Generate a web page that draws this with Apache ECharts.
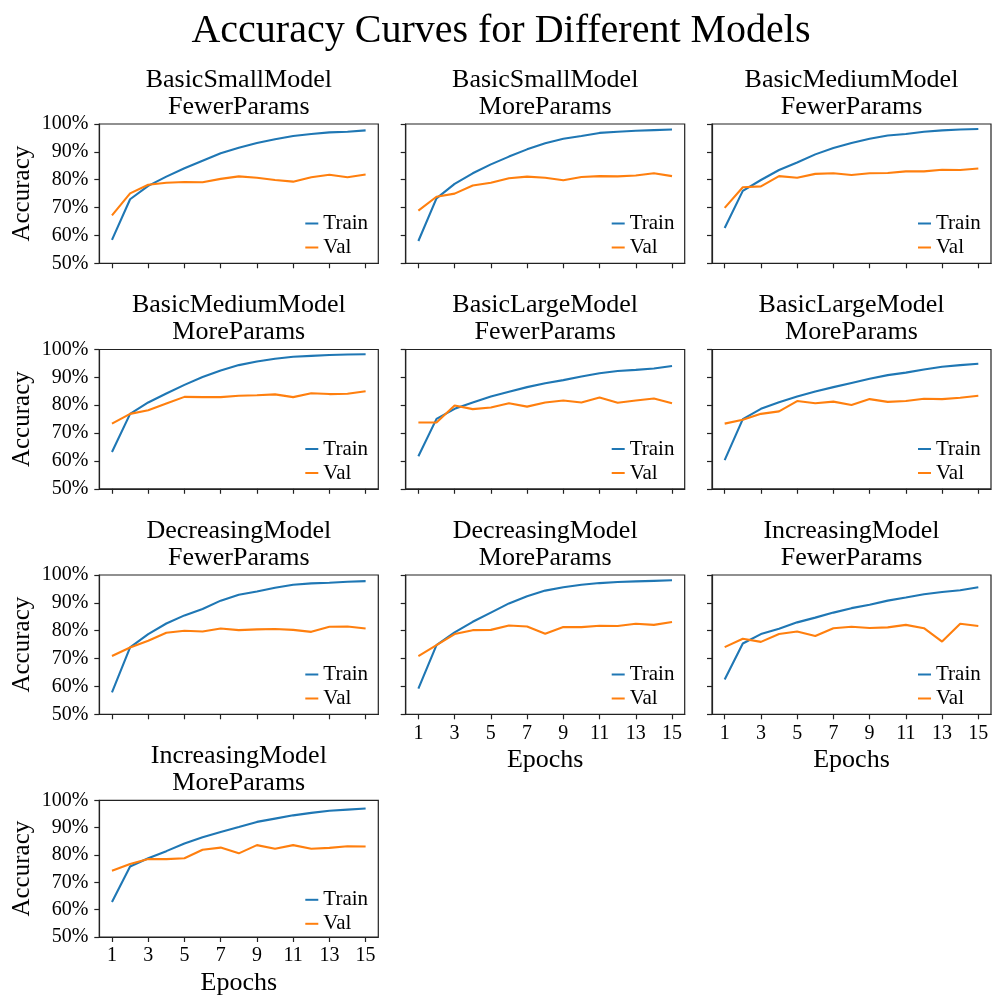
<!DOCTYPE html>
<html>
<head>
<meta charset="utf-8">
<script src="https://cdn.jsdelivr.net/npm/echarts@6/dist/echarts.min.js"></script>
<style>
  html, body { margin: 0; padding: 0; background: #fff; }
  #chart { width: 992px; height: 997px; }
</style>
</head>
<body>
<div id="chart"></div>
<script>
// Accuracy per epoch for ten model variants (train / validation), in percent
const epochs = [1, 2, 3, 4, 5, 6, 7, 8, 9, 10, 11, 12, 13, 14, 15];
const epochTicks = [1, 3, 5, 7, 9, 11, 13, 15];
const accuracyTicks = [50, 60, 70, 80, 90, 100];

const modelNames = [
  'BasicSmallModel\nFewerParams', 'BasicSmallModel\nMoreParams', 'BasicMediumModel\nFewerParams',
  'BasicMediumModel\nMoreParams', 'BasicLargeModel\nFewerParams', 'BasicLargeModel\nMoreParams',
  'DecreasingModel\nFewerParams', 'DecreasingModel\nMoreParams', 'IncreasingModel\nFewerParams',
  'IncreasingModel\nMoreParams'
];

const basicSmallFewerTrain = [58.4, 73.0, 77.8, 81.1, 84.1, 86.8, 89.5, 91.5, 93.2, 94.5, 95.7, 96.4, 97.0, 97.2, 97.7];
const basicSmallFewerVal   = [67.2, 75.1, 78.2, 78.9, 79.2, 79.1, 80.3, 81.2, 80.7, 79.9, 79.3, 80.9, 81.8, 80.9, 81.9];
const basicSmallMoreTrain  = [58.0, 73.3, 78.5, 82.3, 85.5, 88.3, 90.9, 93.1, 94.7, 95.7, 96.8, 97.2, 97.6, 97.8, 98.0];
const basicSmallMoreVal    = [68.9, 73.9, 75.0, 77.9, 78.9, 80.5, 81.1, 80.7, 79.8, 81.0, 81.3, 81.2, 81.5, 82.3, 81.3];
const basicMediumFewerTrain = [62.7, 76.0, 79.9, 83.5, 86.2, 89.1, 91.4, 93.2, 94.7, 95.9, 96.4, 97.2, 97.7, 98.0, 98.2];
const basicMediumFewerVal   = [69.9, 77.3, 77.6, 81.3, 80.7, 82.1, 82.3, 81.7, 82.3, 82.4, 83.0, 83.0, 83.6, 83.5, 84.0];
const basicMediumMoreTrain  = [63.2, 76.9, 81.0, 84.2, 87.3, 90.1, 92.5, 94.4, 95.7, 96.7, 97.4, 97.7, 98.0, 98.2, 98.3];
const basicMediumMoreVal    = [73.4, 76.9, 78.2, 80.6, 83.0, 82.9, 82.9, 83.4, 83.6, 83.9, 82.9, 84.3, 84.0, 84.1, 85.0];
const basicLargeFewerTrain = [61.7, 75.1, 78.7, 81.0, 83.1, 84.8, 86.5, 87.9, 89.0, 90.3, 91.5, 92.3, 92.7, 93.2, 94.1];
const basicLargeFewerVal   = [73.8, 73.8, 79.9, 78.6, 79.2, 80.7, 79.5, 81.0, 81.7, 81.0, 82.8, 80.9, 81.7, 82.4, 80.7];
const basicLargeMoreTrain  = [60.3, 75.0, 78.7, 81.1, 83.1, 84.9, 86.5, 88.0, 89.5, 90.8, 91.7, 92.8, 93.8, 94.4, 94.9];
const basicLargeMoreVal    = [73.4, 74.8, 76.9, 77.8, 81.5, 80.7, 81.3, 80.1, 82.2, 81.2, 81.5, 82.3, 82.2, 82.7, 83.4];
const decreasingFewerTrain = [57.9, 74.0, 78.8, 82.6, 85.5, 87.8, 90.8, 92.9, 94.1, 95.4, 96.5, 97.0, 97.2, 97.6, 97.8];
const decreasingFewerVal   = [70.9, 74.0, 76.4, 79.3, 80.0, 79.7, 80.8, 80.2, 80.5, 80.6, 80.3, 79.6, 81.4, 81.5, 80.8];
const decreasingMoreTrain  = [59.2, 74.8, 79.4, 83.2, 86.5, 89.8, 92.4, 94.4, 95.6, 96.5, 97.1, 97.5, 97.7, 97.9, 98.1];
const decreasingMoreVal    = [70.9, 74.8, 78.8, 80.2, 80.3, 81.9, 81.5, 78.9, 81.3, 81.3, 81.8, 81.7, 82.5, 82.1, 83.1];
const increasingFewerTrain = [62.5, 75.4, 78.8, 80.7, 83.0, 84.7, 86.5, 88.1, 89.3, 90.8, 91.9, 93.1, 93.9, 94.5, 95.6];
const increasingFewerVal   = [74.1, 77.1, 76.0, 78.8, 79.7, 78.1, 80.9, 81.4, 81.0, 81.2, 82.1, 80.9, 76.1, 82.5, 81.7];
const increasingMoreTrain  = [62.8, 75.8, 78.8, 81.4, 84.2, 86.5, 88.4, 90.2, 92.1, 93.3, 94.5, 95.4, 96.2, 96.6, 97.0];
const increasingMoreVal    = [74.2, 76.7, 78.5, 78.5, 78.8, 81.9, 82.7, 80.6, 83.6, 82.3, 83.6, 82.3, 82.6, 83.2, 83.1];

const trainSeries = [basicSmallFewerTrain, basicSmallMoreTrain, basicMediumFewerTrain, basicMediumMoreTrain,
  basicLargeFewerTrain, basicLargeMoreTrain, decreasingFewerTrain, decreasingMoreTrain,
  increasingFewerTrain, increasingMoreTrain];
const valSeries = [basicSmallFewerVal, basicSmallMoreVal, basicMediumFewerVal, basicMediumMoreVal,
  basicLargeFewerVal, basicLargeMoreVal, decreasingFewerVal, decreasingMoreVal,
  increasingFewerVal, increasingMoreVal];

// Panel layout (3 columns x 4 rows)
const colLeft = [99.3, 405.7, 712];
const rowTop = [124, 349.5, 575, 800.3];
const panelW = 279;
const panelH = 139.3;
const FONT = '"Liberation Serif", "Times New Roman", serif';
const INK = '#000';
const FRAME = '#222';
const TRAIN_COLOR = '#1f77b4';
const VAL_COLOR = '#ff7f0e';

// matplotlib-style 5% padding on the epoch axis
const span = epochs[epochs.length - 1] - epochs[0];
const xMin = epochs[0] - 0.05 * span;
const xMax = epochs[epochs.length - 1] + 0.05 * span;

const grids = [], xAxes = [], yAxes = [], series = [], titles = [], legends = [];

titles.push({
  text: 'Accuracy Curves for Different Models',
  left: 501, top: 9, textAlign: 'center', padding: 0,
  textStyle: { fontFamily: FONT, fontSize: 40, fontWeight: 'normal', color: INK, lineHeight: 44 }
});

modelNames.forEach((name, i) => {
  const col = i % 3, row = Math.floor(i / 3);
  const left = colLeft[col], top = rowTop[row];
  const showXLabels = i >= 7;
  const showYLabels = col === 0;

  grids.push({
    left: left, top: top, width: panelW, height: panelH,
    show: true, borderColor: FRAME, borderWidth: 1.2, backgroundColor: 'transparent'
  });

  xAxes.push({
    type: 'value', gridIndex: i, min: xMin, max: xMax,
    axisLine: { show: true, onZero: false, lineStyle: { color: FRAME, width: 1.2 } },
    axisTick: { show: true, customValues: epochTicks, length: 5, inside: false, lineStyle: { color: FRAME, width: 1.2 } },
    axisLabel: {
      show: showXLabels, customValues: epochTicks, margin: 9,
      fontFamily: FONT, fontSize: 20, color: INK
    },
    splitLine: { show: false },
    name: showXLabels ? 'Epochs' : '',
    nameLocation: 'middle', nameGap: 33,
    nameTextStyle: { fontFamily: FONT, fontSize: 26, color: INK }
  });

  yAxes.push({
    type: 'value', gridIndex: i, min: accuracyTicks[0], max: accuracyTicks[accuracyTicks.length - 1],
    interval: accuracyTicks[1] - accuracyTicks[0],
    axisLine: { show: true, lineStyle: { color: FRAME, width: 1.2 } },
    axisTick: { show: true, length: 5, inside: false, lineStyle: { color: FRAME, width: 1.2 } },
    axisLabel: {
      show: showYLabels, margin: 11, formatter: '{value}%',
      fontFamily: FONT, fontSize: 20, color: INK
    },
    splitLine: { show: false },
    name: showYLabels ? 'Accuracy' : '',
    nameLocation: 'middle', nameGap: 64, nameRotate: 90,
    nameTextStyle: { fontFamily: FONT, fontSize: 25, color: INK }
  });

  series.push({
    name: 'Train', type: 'line', xAxisIndex: i, yAxisIndex: i,
    data: epochs.map((e, k) => [e, trainSeries[i][k]]),
    showSymbol: false, symbol: 'none', color: TRAIN_COLOR,
    lineStyle: { color: TRAIN_COLOR, width: 2.1 }, z: 3
  });
  series.push({
    name: 'Val', type: 'line', xAxisIndex: i, yAxisIndex: i,
    data: epochs.map((e, k) => [e, valSeries[i][k]]),
    showSymbol: false, symbol: 'none', color: VAL_COLOR,
    lineStyle: { color: VAL_COLOR, width: 2.1 }, z: 4
  });

  titles.push({
    text: name,
    left: left + panelW / 2, top: top - 57.5, textAlign: 'center', padding: 0,
    textStyle: { fontFamily: FONT, fontSize: 26, fontWeight: 'normal', color: INK, lineHeight: 27 }
  });

  legends.push({
    data: ['Train', 'Val'],
    orient: 'vertical', left: left + 206, top: top + 89, padding: 0,
    itemGap: 3, itemWidth: 13, itemHeight: 2, icon: 'rect',
    selectedMode: false,
    textStyle: { fontFamily: FONT, fontSize: 21, color: INK, lineHeight: 20 }
  });
});

const chart = echarts.init(document.getElementById('chart'), null, { renderer: 'canvas' });
chart.setOption({
  animation: false,
  backgroundColor: '#fff',
  title: titles,
  legend: legends,
  grid: grids,
  xAxis: xAxes,
  yAxis: yAxes,
  series: series
});
</script>
</body>
</html>
